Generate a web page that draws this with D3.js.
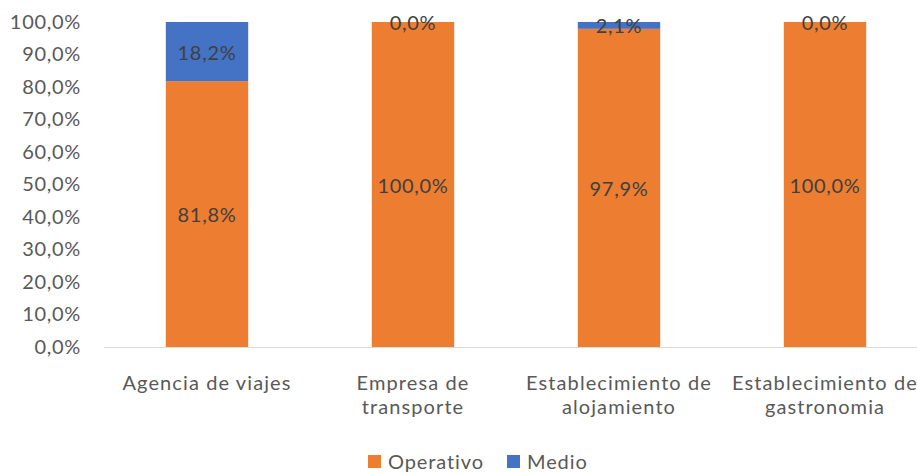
<!DOCTYPE html>
<html>
<head>
<meta charset="utf-8">
<script src="https://cdn.jsdelivr.net/npm/d3@7"></script>
<style>
  html, body { margin: 0; padding: 0; background: #fff; }
  svg { display: block; font-family: Lato, "Open Sans", sans-serif; }
</style>
</head>
<body>
<svg id="chart" width="917" height="474"></svg>
<script>
// Categories (two-line labels) and the two stacked series, in percent
const categories = [
  ["Agencia de viajes"],
  ["Empresa de", "transporte"],
  ["Establecimiento de", "alojamiento"],
  ["Establecimiento de", "gastronomia"]
];
const operativo = [81.8, 100.0, 97.9, 100.0];
const medio = [18.2, 0.0, 2.1, 0.0];
const seriesNames = ["Operativo", "Medio"];
const seriesColors = ["#ED7D31", "#4472C4"];
const yTicks = [0, 10, 20, 30, 40, 50, 60, 70, 80, 90, 100];

const fmt = v => v.toFixed(1).replace(".", ",") + "%";
const FONT = "20px";

const svg = d3.select("#chart");
const margin = { left: 104, top: 22 };
const plotW = 824, plotH = 325;
const g = svg.append("g").attr("transform", `translate(${margin.left},${margin.top})`);

const keys = categories.map(c => c.join(" "));
const x = d3.scaleBand().domain(keys).range([0, plotW]).paddingInner(0.6).paddingOuter(0.3);
const y = d3.scaleLinear().domain([0, 100]).range([plotH, 0]);

// Y axis labels (no axis line, no gridlines)
const yAxis = d3.axisLeft(y).tickValues(yTicks).tickFormat(fmt).tickSize(0).tickPadding(23);
const yg = g.append("g").call(yAxis);
yg.select(".domain").remove();
yg.selectAll("text").attr("fill", "#595959").style("font-size", FONT)
  .style("font-family", "Lato, sans-serif").style("letter-spacing", "0.7px");

// Stacked data
const rows = keys.map((k, i) => ({ key: k, Operativo: operativo[i], Medio: medio[i] }));
const stack = d3.stack().keys(seriesNames)(rows);

stack.forEach((layer, li) => {
  g.append("g").selectAll("rect").data(layer).join("rect")
    .attr("x", d => x(d.data.key))
    .attr("width", x.bandwidth())
    .attr("y", d => y(d[1]))
    .attr("height", d => y(d[0]) - y(d[1]))
    .attr("fill", seriesColors[li]);
});

// Baseline
g.append("line").attr("x1", 0).attr("x2", plotW).attr("y1", plotH + 0.5).attr("y2", plotH + 0.5)
  .attr("stroke", "#D9D9D9").attr("stroke-width", 1);

// Data labels centered in each segment
stack.forEach(layer => {
  g.append("g").selectAll("text").data(layer).join("text")
    .attr("x", d => x(d.data.key) + x.bandwidth() / 2)
    .attr("y", d => (y(d[0]) + y(d[1])) / 2)
    .attr("text-anchor", "middle")
    .attr("dominant-baseline", "central")
    .attr("fill", "#404040")
    .style("font-size", FONT)
    .style("letter-spacing", "0.7px")
    .text(d => fmt(d[1] - d[0]));
});

// Category labels, one text per line
const xl = g.append("g");
categories.forEach((lines, i) => {
  lines.forEach((ln, j) => {
    xl.append("text")
      .attr("x", x(keys[i]) + x.bandwidth() / 2)
      .attr("y", plotH + 35 + j * 24)
      .attr("text-anchor", "middle")
      .attr("dominant-baseline", "central")
      .attr("fill", "#595959")
      .style("font-size", FONT)
      .style("letter-spacing", "1.1px")
      .text(ln);
  });
});

// Legend
const legend = svg.append("g").attr("transform", "translate(368,461)");
const items = [{ name: "Operativo", color: seriesColors[0], dx: 0 }, { name: "Medio", color: seriesColors[1], dx: 139 }];
items.forEach(it => {
  const lg = legend.append("g").attr("transform", `translate(${it.dx},0)`);
  lg.append("rect").attr("x", 0).attr("y", -6).attr("width", 13).attr("height", 13).attr("fill", it.color);
  lg.append("text").attr("x", 20).attr("y", 0).attr("dominant-baseline", "central")
    .attr("fill", "#595959").style("font-size", FONT).style("letter-spacing", "0.9px").text(it.name);
});
</script>
</body>
</html>
